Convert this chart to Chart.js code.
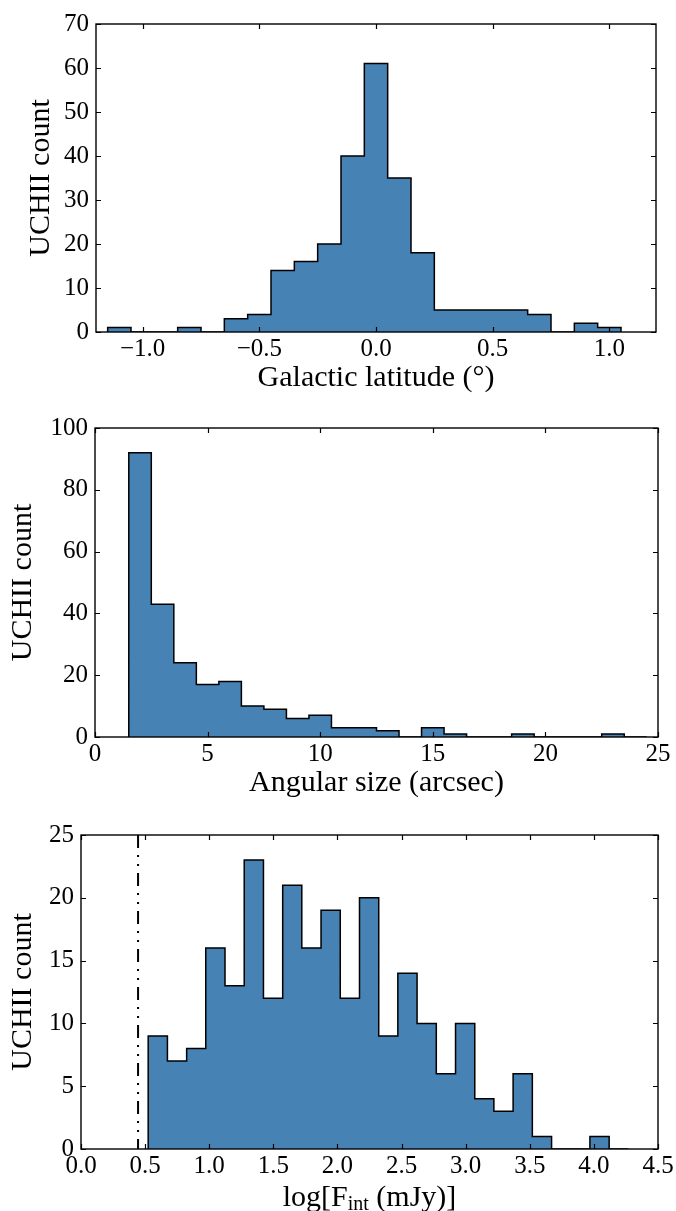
<!DOCTYPE html>
<html><head><meta charset="utf-8">
<script src="https://cdn.jsdelivr.net/npm/chart.js@4.4.1/dist/chart.umd.min.js"></script>
<style>
html,body{margin:0;padding:0;background:#fff;}
#wrap{position:relative;width:676px;height:1211px;overflow:hidden;}
canvas{position:absolute;left:0;}
</style></head><body>
<div id="wrap">
<canvas id="c1" width="676" height="400" style="top:0px"></canvas>
<canvas id="c2" width="676" height="405" style="top:400px"></canvas>
<canvas id="c3" width="676" height="406" style="top:805px"></canvas>
</div>
<script>
// ---- Data ----
// Panel 1: Galactic latitude histogram (bin edges in degrees, counts per bin)
const latEdges = [-1.15,-1.05,-0.95,-0.85,-0.75,-0.65,-0.55,-0.45,-0.35,-0.25,-0.15,-0.05,0.05,0.15,0.25,0.35,0.45,0.55,0.65,0.75,0.85,0.95,1.05];
const latCounts = [1,0,0,1,0,3,4,14,16,20,40,61,35,18,5,5,5,5,4,0,2,1];
const latXTicks = [-1.0,-0.5,0.0,0.5,1.0];
const latYTicks = [0,10,20,30,40,50,60,70];

// Panel 2: Angular size histogram (arcsec)
const sizeEdges = [1.5,2.5,3.5,4.5,5.5,6.5,7.5,8.5,9.5,10.5,11.5,12.5,13.5,14.5,15.5,16.5,17.5,18.5,19.5,20.5,21.5,22.5,23.5,24.5];
const sizeCounts = [92,43,24,17,18,10,9,6,7,3,3,2,0,3,1,0,0,1,0,0,0,1,0];
const sizeXTicks = [0,5,10,15,20,25];
const sizeYTicks = [0,20,40,60,80,100];

// Panel 3: integrated flux histogram (log mJy)
const fluxEdges = [0.524,0.674,0.824,0.973,1.123,1.273,1.423,1.573,1.722,1.872,2.022,2.172,2.322,2.471,2.621,2.771,2.921,3.071,3.220,3.370,3.520,3.670,3.820,3.969,4.119,4.269];
const fluxCounts = [9,7,8,16,13,23,12,21,16,19,12,20,9,14,10,6,10,4,3,6,1,0,0,1,0];
const fluxLimit = 0.445;
const fluxXTicks = [0.0,0.5,1.0,1.5,2.0,2.5,3.0,3.5,4.0,4.5];
const fluxYTicks = [0,5,10,15,20,25];

const FILL = '#4682b4';
const FONT = 'Liberation Serif';
Chart.defaults.font.family = FONT;
Chart.defaults.color = '#000';

function stepPoints(edges, counts){
  const pts = [{x: edges[0], y: 0}];
  counts.forEach((c, i) => { pts.push({x: edges[i], y: c}); pts.push({x: edges[i+1], y: c}); });
  pts.push({x: edges[edges.length-1], y: 0});
  return pts;
}

const framePlugin = {
  id: 'frame',
  afterDraw(chart){
    const {ctx, chartArea: a, scales: {x, y}} = chart;
    ctx.save();
    ctx.strokeStyle = '#000';
    ctx.lineWidth = 1.2;
    ctx.beginPath();
    x.ticks.forEach(t => {
      const p = Math.round(x.getPixelForValue(t.value)) + 0.5;
      ctx.moveTo(p, a.bottom); ctx.lineTo(p, a.bottom - 5);
      ctx.moveTo(p, a.top); ctx.lineTo(p, a.top + 5);
    });
    y.ticks.forEach(t => {
      const p = Math.round(y.getPixelForValue(t.value)) + 0.5;
      ctx.moveTo(a.left, p); ctx.lineTo(a.left + 5, p);
      ctx.moveTo(a.right, p); ctx.lineTo(a.right - 5, p);
    });
    ctx.stroke();
    ctx.lineWidth = 1.4;
    ctx.strokeRect(a.left, a.top, a.right - a.left, a.bottom - a.top);
    ctx.restore();
  }
};

function makeChart(id, cfg){
  const datasets = [{
    data: stepPoints(cfg.edges, cfg.counts),
    borderColor: '#000', borderWidth: 1.5, backgroundColor: FILL,
    fill: 'origin', pointRadius: 0, tension: 0, borderJoinStyle: 'miter'
  }];
  if (cfg.extra) datasets.push(cfg.extra);
  return new Chart(document.getElementById(id), {
    type: 'line',
    data: { datasets },
    plugins: [framePlugin].concat(cfg.plugins || []),
    options: {
      responsive: false, animation: false, devicePixelRatio: 1,
      events: [],
      layout: { padding: { top: cfg.padTop, right: cfg.padRight, left: 0, bottom: 0 } },
      plugins: { legend: { display: false }, tooltip: { enabled: false } },
      scales: {
        x: {
          type: 'linear', min: cfg.xMin, max: cfg.xMax,
          grid: { display: false, drawTicks: false },
          border: { display: false },
          afterBuildTicks: s => { s.ticks = cfg.xTicks.map(v => ({value: v})); },
          ticks: { font: { size: 25 }, padding: 2, maxRotation: 0, autoSkip: false, callback: cfg.xFmt },
          title: cfg.xTitle ? { display: true, text: cfg.xTitle, font: { size: 30, lineHeight: 1.2 }, padding: { top: 0, bottom: 4 } } : { display: false },
          afterFit: s => { s.height = cfg.xHeight; }
        },
        y: {
          type: 'linear', min: cfg.yMin, max: cfg.yMax,
          grid: { display: false, drawTicks: false },
          border: { display: false },
          afterBuildTicks: s => { s.ticks = cfg.yTicks.map(v => ({value: v})); },
          ticks: { font: { size: 25 }, padding: 7, autoSkip: false, callback: v => String(v) },
          title: { display: true, text: 'UCHII count', font: { size: 30, lineHeight: 1.2 }, padding: { top: cfg.yTitlePad, bottom: 0 } },
          afterFit: s => { s.width = cfg.yWidth; }
        }
      }
    }
  });
}

makeChart('c1', {
  edges: latEdges, counts: latCounts, xMin: -1.2, xMax: 1.2, yMin: 0, yMax: 70,
  xTicks: latXTicks, yTicks: latYTicks,
  xFmt: v => Number(v).toFixed(1).replace('-', '\u2212'),
  xTitle: 'Galactic latitude (\u00b0)',
  padTop: 24, padRight: 20, xHeight: 68, yWidth: 96, yTitlePad: 23
});

makeChart('c2', {
  edges: sizeEdges, counts: sizeCounts, xMin: 0, xMax: 25, yMin: 0, yMax: 100,
  xTicks: sizeXTicks, yTicks: sizeYTicks,
  xFmt: v => String(v),
  xTitle: 'Angular size (arcsec)',
  padTop: 28, padRight: 18, xHeight: 68, yWidth: 95, yTitlePad: 5
});

const fluxTitle = {
  id: 'fluxTitle',
  afterDraw(chart){
    const {ctx, chartArea: a} = chart;
    const parts = [['log[F', 30, 0], ['int', 20, 7], [' (mJy)]', 30, 0]];
    ctx.save();
    ctx.fillStyle = '#000';
    ctx.textBaseline = 'middle';
    ctx.textAlign = 'left';
    let total = 0;
    parts.forEach(p => { ctx.font = p[1] + 'px "' + FONT + '"'; total += ctx.measureText(p[0]).width; });
    let xPos = (a.left + a.right) / 2 - total / 2;
    const yPos = chart.height - 13;
    parts.forEach(p => {
      ctx.font = p[1] + 'px "' + FONT + '"';
      ctx.fillText(p[0], xPos, yPos + p[2]);
      xPos += ctx.measureText(p[0]).width;
    });
    ctx.restore();
  }
};

makeChart('c3', {
  edges: fluxEdges, counts: fluxCounts, xMin: 0, xMax: 4.5, yMin: 0, yMax: 25,
  xTicks: fluxXTicks, yTicks: fluxYTicks,
  xFmt: v => Number(v).toFixed(1),
  xTitle: null,
  padTop: 30, padRight: 18, xHeight: 62, yWidth: 81, yTitlePad: 5,
  plugins: [fluxTitle],
  extra: {
    data: [{x: fluxLimit, y: 25}, {x: fluxLimit, y: 0}],
    borderColor: '#000', borderWidth: 2, borderDash: [13, 7, 2, 7, 2, 7],
    fill: false, pointRadius: 0, tension: 0
  }
});
</script>
</body></html>
